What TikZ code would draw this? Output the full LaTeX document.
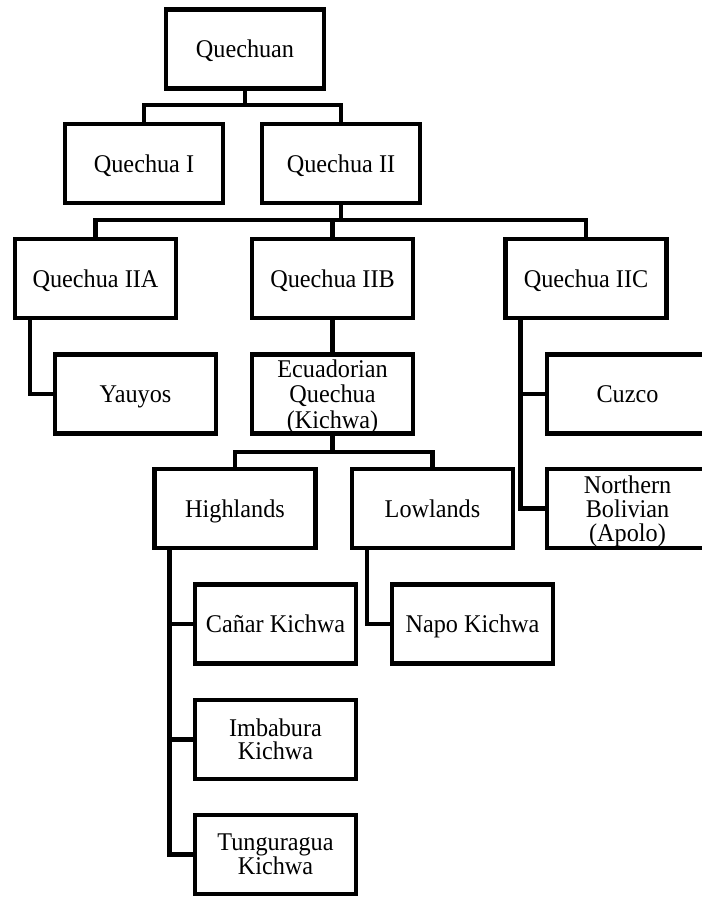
\documentclass[tikz,border=0pt]{standalone}
\usepackage{fontspec}
\setmainfont{Liberation Serif}
\newfontfamily\boxfont[FakeStretch=0.95]{Liberation Serif}
\usetikzlibrary{calc}
\begin{document}
\begin{tikzpicture}[x=1pt,y=-1pt,
  box/.style={draw, line width=4.5pt, minimum width=161pt, minimum height=79pt,
    inner sep=0pt, align=center, text depth=0pt,
    font=\boxfont\fontsize{25.5}{24}\selectfont},
  tight/.style={font=\boxfont\fontsize{25.5}{23}\selectfont},
  loose/.style={font=\boxfont\fontsize{25.5}{25.5}\selectfont},
  link/.style={line width=4.5pt}]
\useasboundingbox (0,0) rectangle (702,898);
\clip (0,0) rectangle (702,898);

% family tree boxes
\node[box, minimum width=158pt] (q)  at (245,49)    {Quechuan};
\node[box, minimum width=158pt] (q1) at (144,163.5) {Quechua I};
\node[box, minimum width=158pt] (q2) at (341,163.5) {Quechua II};
\node[box] (q2a) at (95.5,278.5) {Quechua IIA};
\node[box] (q2b) at (332.5,278.5) {Quechua IIB};
\node[box] (q2c) at (586,278.5) {Quechua IIC};
\node[box] (yau) at (135.5,394) {Yauyos};
\node[box, loose] (ecu) at (332.5,394) {Ecuadorian\\Quechua\\(Kichwa)};
\node[box] (cuz) at (627.5,394) {Cuzco};
\node[box] (hig) at (235,508.5) {Highlands};
\node[box] (low) at (432.5,508.5) {Lowlands};
\node[box] (nbo) at (627.5,508.5) {Northern\\Bolivian\\(Apolo)};
\node[box] (can) at (275.5,624) {Cañar Kichwa};
\node[box] (napo) at (472.5,624) {Napo Kichwa};
\node[box, tight] (imb) at (275.5,739.5) {Imbabura\\Kichwa};
\node[box, tight] (tun) at (275.5,854.5) {Tunguragua\\Kichwa};

% heights of the horizontal bars
\coordinate (b1) at (0,105);
\coordinate (b2) at (0,220);
\coordinate (b3) at (0,452);

% trunks of the side branches
\coordinate (ta) at ([xshift=17pt]q2a.south west);
\coordinate (tc) at ([xshift=17pt]q2c.south west);
\coordinate (th) at ([xshift=17pt]hig.south west);
\coordinate (tl) at ([xshift=17pt]low.south west);

% connectors
\draw[link] (q.south) -- (q.south |- b1);
\draw[link] (q1.north) |- (q.south |- b1) -| (q2.north);

\draw[link] (q2.south) -- (q2.south |- b2);
\draw[link] (q2a.north) |- (q2.south |- b2) -| (q2c.north);
\draw[link] (q2b.north) -- (q2b.north |- b2);

\draw[link] (q2b.south) -- (ecu.north);
\draw[link] (ecu.south) -- (ecu.south |- b3);
\draw[link] (hig.north) |- (ecu.south |- b3) -| (low.north);

\draw[link] (ta) |- (yau.west);
\draw[link] (tc) |- (nbo.west);
\draw[link] (tc |- cuz.west) -- (cuz.west);
\draw[link] (th) |- (tun.west);
\draw[link] (th |- can.west) -- (can.west);
\draw[link] (th |- imb.west) -- (imb.west);
\draw[link] (tl) |- (napo.west);
\end{tikzpicture}
\end{document}
